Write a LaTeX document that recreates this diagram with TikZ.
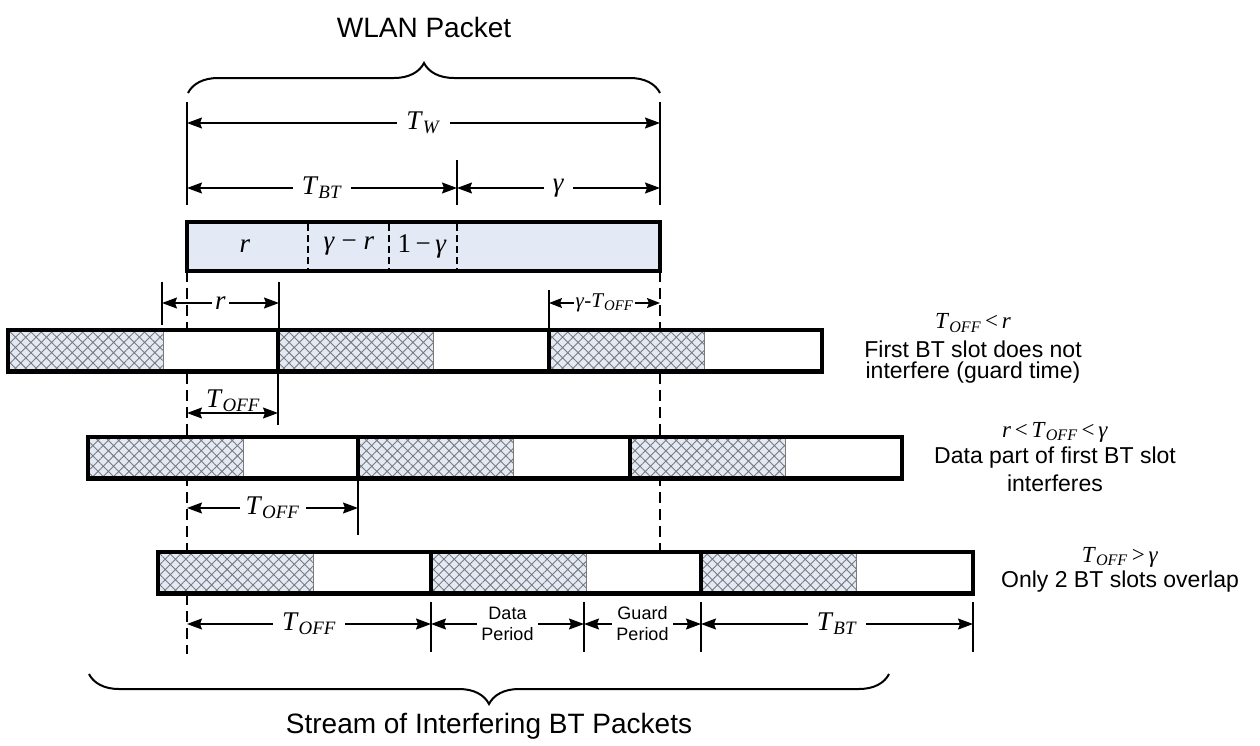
\documentclass[tikz,border=0pt]{standalone}
\usepackage{fontspec}
\setmainfont{Liberation Serif}
\newfontfamily\arialf{Liberation Sans}
\usetikzlibrary{arrows.meta,patterns.meta,decorations.pathreplacing}
\definecolor{pale}{HTML}{E3EAF6}
\definecolor{hatchgray}{HTML}{7A7A7A}
\newcommand{\Tsb}[1]{\textit{T}\textsubscript{\textit{#1}}}
\begin{document}
\begin{tikzpicture}[x=1pt,y=-1pt,
  bar/.style={line width=4.5pt,line join=miter},
  tk/.style={line width=1.3pt},
  dimline/.style={line width=1.3pt,{Stealth[length=15pt,width=11pt,inset=2pt]}-{Stealth[length=15pt,width=11pt,inset=2pt]}},
  smalldim/.style={line width=1.3pt,{Stealth[length=13pt,width=10pt,inset=2pt]}-{Stealth[length=13pt,width=10pt,inset=2pt]}},
  guide/.style={line width=1.3pt,dash pattern=on 11pt off 6pt},
  indash/.style={line width=1.2pt,dash pattern=on 7pt off 4pt},
  hatchfill/.style={fill=pale,postaction={pattern={Hatch[angle=45,distance=7.3pt,line width=0.9pt]},pattern color=hatchgray}},
  mlbl/.style={fill=white,inner xsep=9pt,inner ysep=1pt,font=\fontsize{27}{30}\selectfont},
  slbl/.style={fill=white,inner xsep=2pt,inner ysep=0pt,font=\fontsize{21}{23}\selectfont},
  plbl/.style={fill=white,inner xsep=4pt,inner ysep=0pt,align=center,font=\arialf\fontsize{18}{21}\selectfont},
  rnote/.style={font=\arialf\fontsize{23}{24}\selectfont},
  mnote/.style={font=\fontsize{23}{24}\selectfont},
  ttl/.style={font=\arialf\fontsize{28}{30}\selectfont},
  brc/.style={line width=2pt,decorate,decoration={brace,amplitude=30pt}}
]
\useasboundingbox (0,0) rectangle (1260,745);

% ---------- WLAN packet header ----------
\node[ttl] (wlan) at (424,27) {WLAN Packet};
\draw[brc] (188,93) -- (660,93);

\coordinate (L0) at (187,102); \coordinate (L1) at (187,205);
\coordinate (R0) at (660,102); \coordinate (R1) at (660,205);
\coordinate (M0) at (457,160); \coordinate (M1) at (457,205);
\draw[tk] (L0) -- (L1);
\draw[tk] (R0) -- (R1);
\draw[tk] (M0) -- (M1);

\coordinate (TWa) at (187,123); \coordinate (TWb) at (660,123);
\draw[dimline] (TWa) -- node[mlbl] (tw) {\Tsb{W}} (TWb);
\coordinate (TBa) at (187,188); \coordinate (TBb) at (457,188); \coordinate (TBc) at (660,188);
\draw[dimline] (TBa) -- node[mlbl] (tbt) {\Tsb{BT}} (TBb);
\draw[dimline] (TBb) -- node[mlbl] (gam) {\textit{γ}} (TBc);

% ---------- dashed guide lines (under the rows) ----------
\coordinate (GL0) at (187,271); \coordinate (GL1) at (187,654);
\coordinate (GR0) at (660,271); \coordinate (GR1) at (660,552);
\draw[guide] (GL0) -- (GL1);
\draw[guide] (GR0) -- (GR1);

% ---------- WLAN bar ----------
\draw[bar,fill=pale] (187,222) rectangle (660,271);
\foreach \xd in {308,389,457}{
  \draw[indash] (\xd,224) -- (\xd,269);
}
\node[font=\fontsize{27}{30}\selectfont] (wr) at (245,246) {\textit{r}};
\node[font=\fontsize{27}{30}\selectfont] (wgr) at (349,246) {\textit{γ} − \textit{r}};
\node[font=\fontsize{27}{30}\selectfont] (wog) at (422,246) {1\thinspace−\thinspace\textit{γ}};

% ---------- BT rows ----------
\foreach \yt/\xs/\xa/\xb/\xe in {330/8/278/549/822, 437/88/358/630/902, 552/158/431/701/973}{
  \pgfmathsetmacro\yb{\yt+41.5}
  \fill[white] (\xs,\yt) rectangle (\xe,\yb);
  \foreach \s in {\xs,\xa,\xb}{
    \fill[hatchfill] (\s,\yt) rectangle (\s+155,\yb);
    \draw[hatchgray,line width=0.9pt] (\s+155,\yt) -- (\s+155,\yb);
  }
  \draw[bar] (\xs,\yt) rectangle (\xe,\yb);
  \draw[bar] (\xa,\yt) -- (\xa,\yb);
  \draw[bar] (\xb,\yt) -- (\xb,\yb);
}

% ---------- row 1 dimensions ----------
\coordinate (ra0) at (162,282); \coordinate (ra1) at (162,325);
\coordinate (rb0) at (279,282); \coordinate (rb1) at (279,330);
\draw[tk] (ra0) -- (ra1);
\draw[tk] (rb0) -- (rb1);
\coordinate (rA) at (162,303); \coordinate (rB) at (279,303);
\draw[dimline] (rA) -- node[mlbl,inner xsep=3pt] (rl) {\textit{r}} (rB);

\coordinate (gt0) at (549,290); \coordinate (gt1) at (549,330);
\draw[tk] (gt0) -- (gt1);
\coordinate (gA) at (549,303); \coordinate (gB) at (660,303);
\draw[smalldim] (gA) -- node[slbl] (gtl) {\textit{γ}-\Tsb{OFF}} (gB);

\coordinate (o1t0) at (278,371); \coordinate (o1t1) at (278,425);
\draw[tk] (o1t0) -- (o1t1);
\coordinate (o1A) at (187,413); \coordinate (o1B) at (278,413);
\draw[dimline] (o1A) -- (o1B);
\node[fill=white,inner sep=0.5pt,font=\fontsize{27}{30}\selectfont] (o1l) at (233,401) {\Tsb{OFF}};

% ---------- row 2 dimension ----------
\coordinate (o2t0) at (358,479); \coordinate (o2t1) at (358,535);
\draw[tk] (o2t0) -- (o2t1);
\coordinate (o2A) at (187,508); \coordinate (o2B) at (358,508);
\draw[dimline] (o2A) -- node[mlbl,inner xsep=6pt] (o2l) {\Tsb{OFF}} (o2B);

% ---------- row 3 dimensions ----------
\foreach \xt/\nm in {431/b1,584/b2,701/b3,973/b4}{
  \coordinate (\nm t) at (\xt,602); \coordinate (\nm b) at (\xt,652);
  \draw[tk] (\nm t) -- (\nm b);
}
\coordinate (d0) at (187,624); \coordinate (d1) at (431,624);
\coordinate (d2) at (584,624); \coordinate (d3) at (701,624); \coordinate (d4) at (973,624);
\draw[dimline] (d0) -- node[mlbl] (bo) {\Tsb{OFF}} (d1);
\draw[dimline] (d1) -- node[plbl] (bd) {Data\\Period} (d2);
\draw[dimline] (d2) -- node[plbl] (bg) {Guard\\Period} (d3);
\draw[dimline] (d3) -- node[mlbl] (bb) {\Tsb{BT}} (d4);

% ---------- bottom brace ----------
\draw[brc] (889,674) -- (89,674);
\node[ttl] (stream) at (489,726) {Stream of Interfering BT Packets};

% ---------- right notes ----------
\node[mnote] (n1a) at (973,323) {\Tsb{OFF}\,<\,\textit{r}};
\node[rnote] (n1b) at (973,349) {First BT slot does not};
\node[rnote] (n1c) at (973,373) {interfere (guard time)};

\node[mnote] (n2a) at (1055,432) {\textit{r}\,<\,\Tsb{OFF}\,<\,\textit{γ}};
\node[rnote] (n2b) at (1055,458) {Data part of first BT slot};
\node[rnote] (n2c) at (1055,483) {interferes};

\node[mnote] (n3a) at (1120,557) {\Tsb{OFF}\,>\,\textit{γ}};
\node[rnote] (n3b) at (1120,582) {Only 2 BT slots overlap};
\end{tikzpicture}
\end{document}
